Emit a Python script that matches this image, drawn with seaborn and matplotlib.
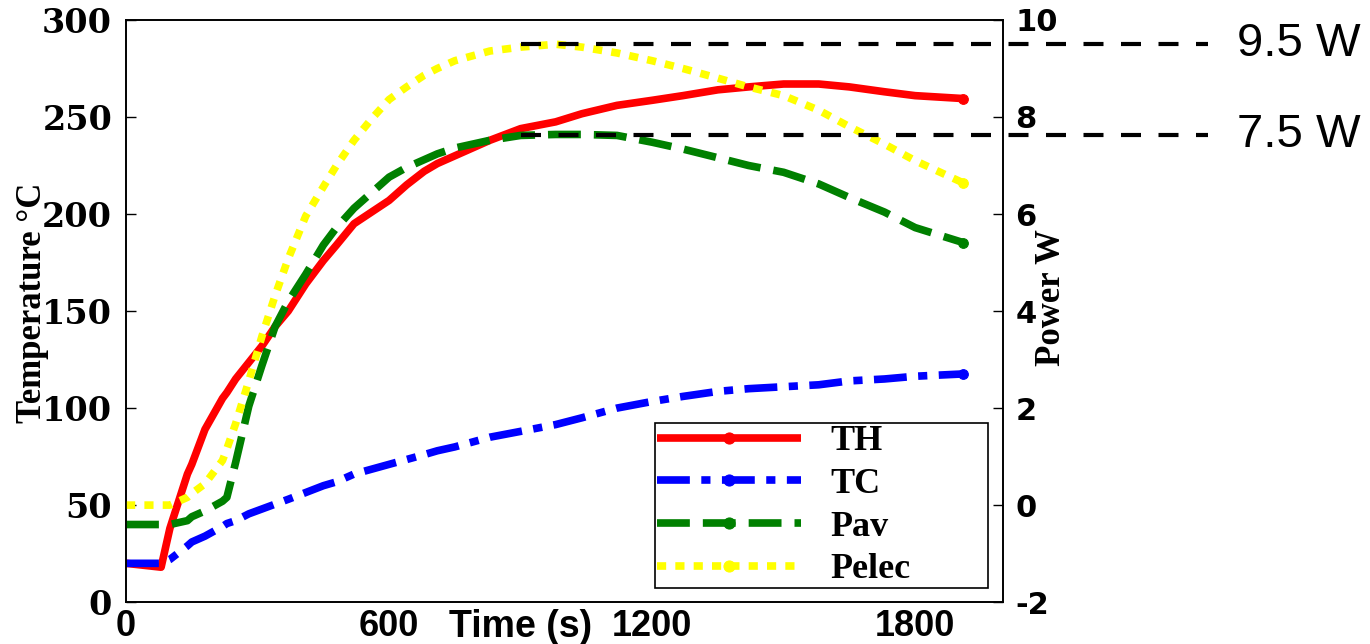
import numpy as np
import pandas as pd
import matplotlib
matplotlib.use('Agg')
import matplotlib.pyplot as plt
import matplotlib.transforms as mtransforms
import seaborn as sns

# data
time_s = [0, 80, 100, 140, 150, 180, 220, 230, 250, 280, 310, 340, 370, 410, 450,
          480, 520, 560, 600, 640, 680, 710, 750, 830, 900, 980, 1040, 1120, 1200,
          1270, 1350, 1420, 1500, 1580, 1650, 1730, 1800, 1910]
th_temp = [20, 18, 38, 66, 71, 89, 105, 108, 115, 123.5, 132, 142, 150, 164, 176,
           184, 195, 201, 207, 215, 222, 226, 230, 238, 244, 247.5, 251.7, 256, 258.6,
           261, 264, 265.5, 267, 267, 265.5, 263, 261, 259.5]
tc_temp = [20, 20, 22, 29, 31, 34, 39, 40.5, 42, 45.5, 48, 50.5, 53, 56.5, 60,
           62, 66, 68.5, 71, 73.5, 76, 78, 80, 85, 88, 91.5, 95, 100, 103.4,
           106, 108.6, 110, 111, 112, 114, 115, 116.4, 117.6]
pav_power = [-0.4, -0.4, -0.4, -0.32, -0.24, -0.12, 0.08, 0.16, 0.88, 2.04, 2.88, 3.68, 4.2, 4.76, 5.36,
             5.72, 6.12, 6.44, 6.76, 6.96, 7.12, 7.24, 7.36, 7.52, 7.62, 7.64, 7.64, 7.62, 7.48,
             7.34, 7.16, 7.0, 6.86, 6.62, 6.34, 6.04, 5.72, 5.41]
pelec_power = [0.0, 0.0, 0.0, 0.16, 0.24, 0.44, 0.92, 1.16, 1.68, 2.56, 3.48, 4.32, 5.08, 5.96, 6.56,
               7.0, 7.52, 7.96, 8.36, 8.62, 8.86, 9.0, 9.16, 9.36, 9.44, 9.5, 9.44, 9.32, 9.16,
               9.0, 8.8, 8.62, 8.44, 8.14, 7.8, 7.44, 7.1, 6.64]

ref_levels = [9.5, 7.63]
ref_labels = ['9.5 W', '7.5 W']
ref_start = 900

x_ticks = [0, 600, 1200, 1800]
temp_ticks = [0, 50, 100, 150, 200, 250, 300]
power_ticks = [-2, 0, 2, 4, 6, 8, 10]

df = pd.DataFrame({'t': time_s, 'TH': th_temp, 'TC': tc_temp,
                   'Pav': pav_power, 'Pelec': pelec_power})

sns.set_style('white')
plt.rcParams['axes.linewidth'] = 1.2
plt.rcParams['axes.unicode_minus'] = False
for key in ['text.color', 'axes.labelcolor', 'xtick.color', 'ytick.color', 'axes.edgecolor']:
    plt.rcParams[key] = 'black'

fig, ax = plt.subplots(figsize=(13.7, 6.44), dpi=100)
fig.subplots_adjust(left=0.092, right=0.732, bottom=0.065, top=0.969)
ax2 = ax.twinx()

sns.lineplot(data=df, x='t', y='TH', ax=ax, color='red', lw=5.5, label='TH', legend=False)
sns.lineplot(data=df, x='t', y='TC', ax=ax, color='blue', lw=5.5, label='TC', legend=False)
sns.lineplot(data=df, x='t', y='Pav', ax=ax2, color='green', lw=5.5, label='Pav', legend=False)
sns.lineplot(data=df, x='t', y='Pelec', ax=ax2, color='yellow', lw=5.5, label='Pelec', legend=False)

l_th, l_tc = ax.get_lines()[:2]
l_pav, l_pel = ax2.get_lines()[:2]
l_tc.set_linestyle((0, (4.3, 1.5, 1.2, 1.5)))
l_pav.set_linestyle((0, (4.3, 1.7)))
l_pel.set_linestyle((0, (1.2, 1.2)))
for ln in (l_th, l_tc, l_pav, l_pel):
    ln.set_marker('o')
    ln.set_markersize(7)
    ln.set_markeredgecolor(ln.get_color())
    ln.set_markerfacecolor(ln.get_color())
    ln.set_markevery([len(time_s) - 1])
    ln.set_solid_capstyle('butt')
    ln.set_dash_capstyle('butt')

# reference power levels, running out past the right axis
x_end = ref_start + 2.59 * (2000 - ref_start) * 0.55
trans = mtransforms.blended_transform_factory(fig.transFigure, ax2.transData)
for lvl, txt in zip(ref_levels, ref_labels):
    ax2.plot([ref_start, x_end], [lvl, lvl], color='black', lw=3,
             linestyle=(0, (4.8, 4.2)), clip_on=False)
    ax2.text(0.903, lvl, txt, transform=trans, ha='left', va='center',
             fontsize=34, family='Liberation Sans', color='black')

ax.set_xlim(0, 2000)
ax.set_ylim(0, 300)
ax2.set_ylim(-2, 10)
ax.set_xticks(x_ticks)
ax.set_yticks(temp_ticks)
ax2.set_yticks(power_ticks)

ax.tick_params(axis='both', direction='in', length=7, width=1)
ax2.tick_params(axis='y', direction='in', length=7, width=1, pad=9)
ax.tick_params(axis='x', pad=5)
ax.tick_params(axis='y', pad=10)
for lab in ax.get_xticklabels():
    lab.set_fontfamily('Liberation Sans')
    lab.set_fontweight('bold')
    lab.set_fontsize(26)
for lab in ax.get_yticklabels():
    lab.set_fontfamily('DejaVu Serif')
    lab.set_fontweight('bold')
    lab.set_fontsize(24)
for lab in ax2.get_yticklabels():
    lab.set_fontfamily('DejaVu Sans')
    lab.set_fontweight('bold')
    lab.set_fontsize(22)

ax.set_xlabel('Time (s)', fontsize=27, fontweight='bold', family='Liberation Sans')
ax.xaxis.set_label_coords(0.45, -0.012)
ax.set_ylabel('Temperature \u00b0C', fontsize=25, fontweight='bold',
              family='Liberation Serif', va='center', ha='center')
ax.yaxis.set_label_coords(-0.107, 0.515)
ax2.set_ylabel('Power W', fontsize=25, fontweight='bold', family='Liberation Serif',
               va='center', ha='center', rotation=90)
ax2.yaxis.set_label_coords(1.055, 0.523)

leg = ax2.legend([l_th, l_tc, l_pav, l_pel], ['TH', 'TC', 'Pav', 'Pelec'],
                 loc='lower left', bbox_to_anchor=(0.603, 0.024, 0.38, 0.29),
                 mode='expand', borderaxespad=0, handlelength=4.0, handletextpad=0.8,
                 labelspacing=0.26, borderpad=0.05, fancybox=False, framealpha=1,
                 edgecolor='black', numpoints=1,
                 prop={'family': 'Liberation Serif', 'weight': 'bold', 'size': 26})
leg.get_frame().set_linewidth(1.2)
for h in leg.legend_handles:
    h.set_markevery([1])
    h.set_markersize(8)

fig.savefig('out.png', dpi=100)
